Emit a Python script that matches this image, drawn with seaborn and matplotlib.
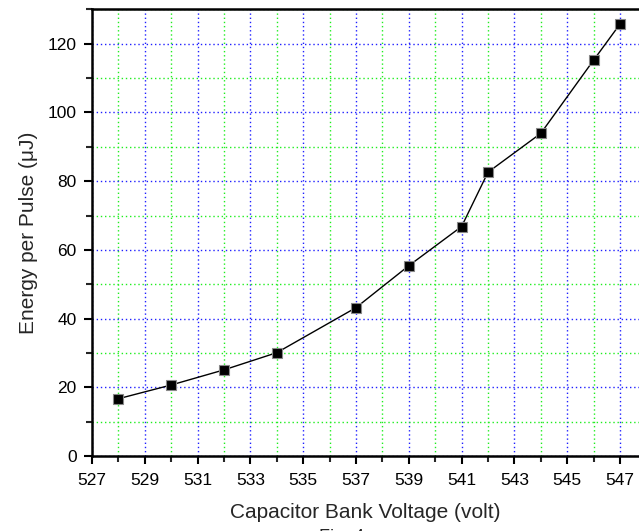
import matplotlib
matplotlib.use("Agg")
import matplotlib.pyplot as plt
import seaborn as sns
import pandas as pd
from matplotlib.ticker import MultipleLocator

# values
voltage = [528, 530, 532, 534, 537, 539, 541, 542, 544, 546, 547]
energy = [16.7, 20.7, 25.1, 30.1, 43.2, 55.4, 66.8, 82.6, 93.9, 115.2, 125.7]
xticks = [527, 529, 531, 533, 535, 537, 539, 541, 543, 545, 547]

df = pd.DataFrame({"voltage": voltage, "energy": energy})

sns.set_style("ticks")
plt.rcParams["font.family"] = ["Liberation Sans", "DejaVu Sans"]

fig = plt.figure(figsize=(6.39, 5.31), dpi=100)
ax = fig.add_axes([0.144, 0.141, 0.856, 0.8415])

# grid: blue on major ticks, green on minor ticks
ax.set_xticks(xticks)
ax.xaxis.set_minor_locator(MultipleLocator(1))
ax.yaxis.set_major_locator(MultipleLocator(20))
ax.yaxis.set_minor_locator(MultipleLocator(10))
ax.grid(which="major", color="#2020ff", linestyle=(0, (1, 2)), linewidth=1.0)
ax.grid(which="minor", color="#20ee20", linestyle=(0, (1, 2)), linewidth=1.0)
ax.set_axisbelow(True)

sns.lineplot(data=df, x="voltage", y="energy", ax=ax, color="black",
             linewidth=1.0, marker="s", markersize=7,
             markerfacecolor="black", markeredgecolor="#888888",
             markeredgewidth=0.8)

ax.set_xlim(527, 547.72)
ax.set_ylim(0, 130)
ax.set_xticks(xticks)

for s in ["left", "bottom", "top"]:
    ax.spines[s].set_linewidth(1.8)
    ax.spines[s].set_color("black")
ax.spines["right"].set_visible(False)

ax.tick_params(which="major", direction="out", length=6, width=1.5,
               labelsize=12.5, colors="black")
ax.tick_params(axis="x", which="major", pad=6)
ax.tick_params(axis="y", which="major", pad=5)
ax.tick_params(which="minor", direction="out", length=4, width=1.5)
ax.tick_params(top=False, right=False, which="both")

ax.set_xlabel("Capacitor Bank Voltage (volt)", fontsize=15, labelpad=11)
ax.set_ylabel("Energy per Pulse (\u03bcJ)", fontsize=15, labelpad=7)

fig.text(0.535, 0.003, "Fig. 4", ha="center", va="top", fontsize=13)

fig.savefig("out.png", dpi=100)
